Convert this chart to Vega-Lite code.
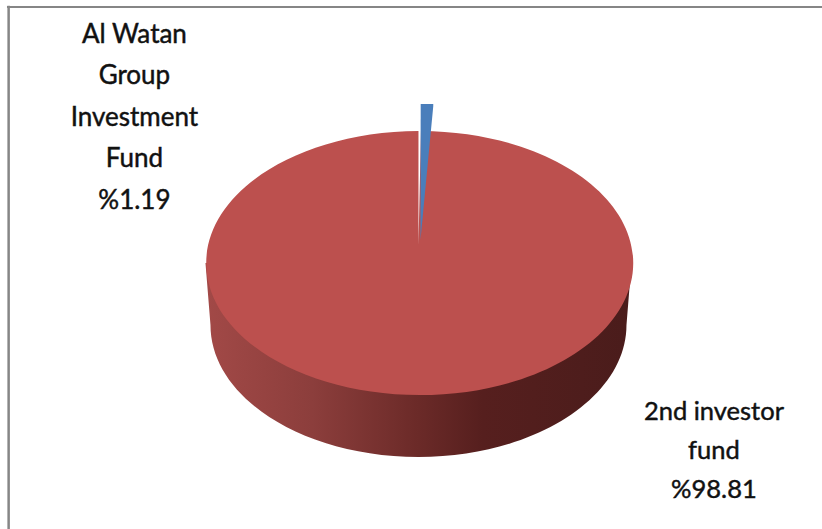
{
  "$schema": "https://vega.github.io/schema/vega-lite/v6.json",
  "autosize": {"type": "none"},
  "width": 822,
  "height": 529,
  "padding": 0,
  "background": "white",
  "view": {"stroke": null},
  "datasets": {
    "pie": [{"fund": "2nd investor fund", "share": 98.81, "cx": 1.82, "cy": 0.57}],
    "wedge": [{"fund": "Al Watan Group Investment Fund", "share": 1.19, "cx": 1.82, "cy": 0.57}],
    "frameTop": [{"x0": -98.3, "x1": 100, "y0": 97.4}],
    "frameLeft": [{"x0": -97.9, "y0": 97.8, "y1": -100}],
    "labelLeft": [{"fund": "Al Watan Group Investment Fund", "text": "Al Watan\nGroup\nInvestment\nFund\n%1.19", "lx": -67.3, "ly": 86.8}],
    "labelRight": [{"fund": "2nd investor fund", "text": "2nd investor\nfund\n%98.81", "lx": 73.7, "ly": -55.8}]
  },
  "data": {"name": "pie"},
  "layer": [
    {
      "data": {"name": "frameTop"},
      "mark": {"type": "rule", "stroke": "#868686", "strokeWidth": 2},
      "encoding": {
        "x": {"field": "x0", "type": "quantitative", "scale": {"domain": [-100, 100]}, "axis": null},
        "x2": {"field": "x1"},
        "y": {"field": "y0", "type": "quantitative", "scale": {"domain": [-100, 100]}, "axis": null}
      }
    },
    {
      "data": {"name": "frameLeft"},
      "mark": {"type": "rule", "stroke": "#868686", "strokeWidth": 2.5},
      "encoding": {
        "x": {"field": "x0", "type": "quantitative", "scale": {"domain": [-100, 100]}, "axis": null},
        "y": {"field": "y0", "type": "quantitative", "scale": {"domain": [-100, 100]}, "axis": null},
        "y2": {"field": "y1"}
      }
    },
    {
      "mark": {
        "type": "point", "filled": true, "opacity": 1, "size": 4, "strokeWidth": 0,
        "shape": "M-213,0 L-208,62 A208,132 0 0 0 208,62 L213,0 Z",
        "fill": {
          "x1": 0, "y1": 0, "x2": 1, "y2": 0, "gradient": "linear",
          "stops": [
            {"offset": 0, "color": "#A24947"},
            {"offset": 0.25, "color": "#8C3E3C"},
            {"offset": 0.5, "color": "#6B2A28"},
            {"offset": 0.65, "color": "#561F1E"},
            {"offset": 1, "color": "#4A1C1B"}
          ]
        }
      },
      "encoding": {
        "x": {"field": "cx", "type": "quantitative", "scale": {"domain": [-100, 100]}, "axis": null},
        "y": {"field": "cy", "type": "quantitative", "scale": {"domain": [-100, 100]}, "axis": null}
      }
    },
    {
      "mark": {
        "type": "point", "filled": true, "opacity": 1, "size": 4, "strokeWidth": 0, "fill": "#BC504E",
        "shape": "M0,-18 L0,-132 A213.5,132 0 1 0 2.5,-132 L0,-18 Z"
      },
      "encoding": {
        "x": {"field": "cx", "type": "quantitative", "scale": {"domain": [-100, 100]}, "axis": null},
        "y": {"field": "cy", "type": "quantitative", "scale": {"domain": [-100, 100]}, "axis": null}
      }
    },
    {
      "data": {"name": "wedge"},
      "mark": {
        "type": "point", "filled": true, "opacity": 1, "size": 4, "strokeWidth": 0, "fill": "#4A7EBB",
        "shape": "M2,-23 L2.2,-159 L14.8,-159 L14.8,-157 Z"
      },
      "encoding": {
        "x": {"field": "cx", "type": "quantitative", "scale": {"domain": [-100, 100]}, "axis": null},
        "y": {"field": "cy", "type": "quantitative", "scale": {"domain": [-100, 100]}, "axis": null}
      }
    },
    {
      "data": {"name": "labelLeft"},
      "mark": {"type": "text", "font": "Lato", "fontSize": 26, "color": "#111111", "stroke": "#111111", "strokeWidth": 0.45, "align": "center", "baseline": "middle", "lineBreak": "\n", "lineHeight": 41.5},
      "encoding": {
        "x": {"field": "lx", "type": "quantitative", "scale": {"domain": [-100, 100]}, "axis": null},
        "y": {"field": "ly", "type": "quantitative", "scale": {"domain": [-100, 100]}, "axis": null},
        "text": {"field": "text"}
      }
    },
    {
      "data": {"name": "labelRight"},
      "mark": {"type": "text", "font": "Lato", "fontSize": 25.5, "color": "#111111", "stroke": "#111111", "strokeWidth": 0.45, "align": "center", "baseline": "middle", "lineBreak": "\n", "lineHeight": 39},
      "encoding": {
        "x": {"field": "lx", "type": "quantitative", "scale": {"domain": [-100, 100]}, "axis": null},
        "y": {"field": "ly", "type": "quantitative", "scale": {"domain": [-100, 100]}, "axis": null},
        "text": {"field": "text"}
      }
    }
  ]
}
